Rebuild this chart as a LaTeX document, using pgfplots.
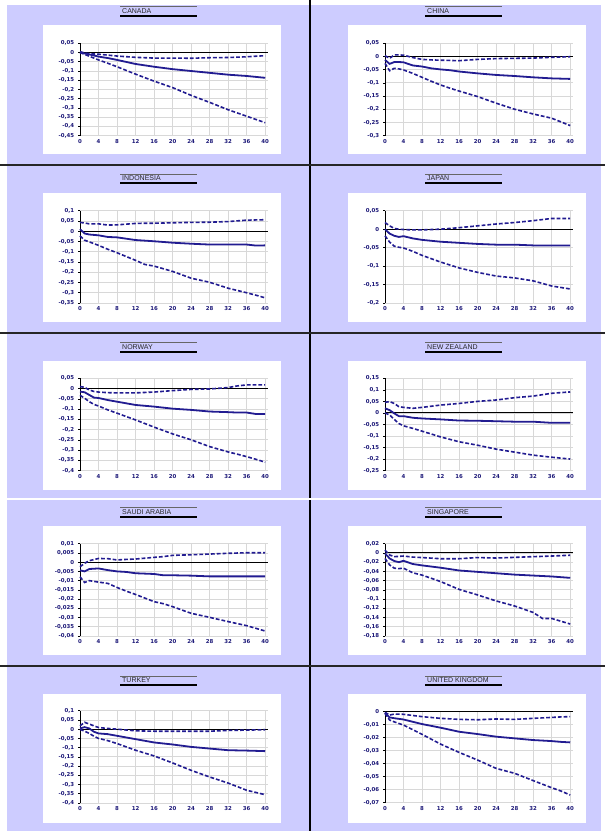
\documentclass[border=0pt]{standalone}
\usepackage{fontspec}
\setmainfont{Liberation Sans}
\newfontfamily\tickfont{DejaVu Sans}
\usepackage{pgfplots}
\pgfplotsset{compat=1.18}
\usepackage{pgfplotstable}

\definecolor{panelbg}{RGB}{205,204,255}
\definecolor{irfblue}{RGB}{34,28,145}
\definecolor{ticknavy}{RGB}{28,24,120}
\definecolor{gridgrey}{RGB}{216,216,216}
\definecolor{titlegrey}{RGB}{40,40,40}

% impulse responses: horizon, point estimate, upper band, lower band
\pgfplotstableread{
x mid up lo
0 0 0.005 0
1 -0.005 -0.003 -0.01
2 -0.01 -0.006 -0.02
3 -0.016 -0.008 -0.03
4 -0.022 -0.009 -0.04
6 -0.03 -0.014 -0.058
8 -0.04 -0.019 -0.077
12 -0.062 -0.026 -0.117
16 -0.077 -0.03 -0.155
20 -0.09 -0.03 -0.19
24 -0.10 -0.031 -0.232
28 -0.11 -0.028 -0.27
32 -0.12 -0.027 -0.31
36 -0.127 -0.023 -0.345
40 -0.137 -0.017 -0.38
}\tabCanada

\pgfplotstableread{
x mid up lo
0 -0.013 0.003 -0.026
1 -0.028 -0.007 -0.054
2 -0.021 0.006 -0.045
3 -0.021 0.006 -0.047
4 -0.022 0.005 -0.051
6 -0.034 -0.004 -0.064
8 -0.038 -0.011 -0.079
10 -0.045 -0.013 -0.094
12 -0.049 -0.014 -0.108
14 -0.052 -0.015 -0.12
16 -0.057 -0.016 -0.131
20 -0.064 -0.011 -0.152
24 -0.07 -0.008 -0.177
28 -0.074 -0.007 -0.2
32 -0.079 -0.006 -0.218
36 -0.083 -0.003 -0.234
40 -0.085 -0.001 -0.262
}\tabChina

\pgfplotstableread{
x mid up lo
0 0.01 0.043 -0.023
1 -0.011 0.04 -0.044
2 -0.016 0.036 -0.052
4 -0.02 0.036 -0.069
6 -0.028 0.03 -0.088
8 -0.03 0.031 -0.105
12 -0.043 0.038 -0.142
14 -0.046 0.039 -0.162
16 -0.049 0.039 -0.17
20 -0.056 0.041 -0.196
24 -0.061 0.043 -0.229
28 -0.065 0.044 -0.249
32 -0.065 0.047 -0.278
36 -0.065 0.054 -0.3
38 -0.07 0.055 -0.312
40 -0.069 0.056 -0.325
}\tabIndonesia

\pgfplotstableread{
x mid up lo
0 0 0.018 -0.018
1 -0.012 0.009 -0.035
2 -0.018 0.002 -0.046
3 -0.021 0 -0.049
4 -0.019 -0.001 -0.051
6 -0.025 -0.002 -0.06
8 -0.029 -0.002 -0.071
12 -0.034 0 -0.089
16 -0.037 0.004 -0.105
20 -0.04 0.009 -0.117
24 -0.042 0.014 -0.127
28 -0.042 0.018 -0.132
32 -0.044 0.023 -0.14
36 -0.044 0.029 -0.154
40 -0.044 0.029 -0.162
}\tabJapan

\pgfplotstableread{
x mid up lo
0 -0.015 0.01 -0.033
1 -0.018 0.006 -0.047
2 -0.031 -0.007 -0.064
3 -0.044 -0.014 -0.077
4 -0.046 -0.017 -0.085
6 -0.056 -0.02 -0.104
8 -0.064 -0.021 -0.12
12 -0.08 -0.021 -0.153
16 -0.088 -0.017 -0.188
20 -0.098 -0.01 -0.221
24 -0.104 -0.004 -0.25
28 -0.112 -0.002 -0.283
32 -0.115 0.005 -0.309
34 -0.117 0.013 -0.32
36 -0.117 0.018 -0.332
38 -0.124 0.018 -0.345
40 -0.124 0.018 -0.359
}\tabNorway

\pgfplotstableread{
x mid up lo
0 0.02 0.046 0
1 0.012 0.049 -0.009
2 -0.002 0.041 -0.028
3 -0.014 0.027 -0.046
4 -0.014 0.024 -0.056
6 -0.021 0.02 -0.067
8 -0.024 0.024 -0.079
12 -0.028 0.034 -0.104
16 -0.033 0.041 -0.125
20 -0.034 0.05 -0.14
24 -0.036 0.056 -0.157
28 -0.038 0.066 -0.17
32 -0.038 0.073 -0.183
36 -0.043 0.085 -0.192
40 -0.043 0.091 -0.2
}\tabNewZealand

\pgfplotstableread{
x mid up lo
0 -0.0044 -0.0025 -0.0079
1 -0.005 -0.0006 -0.011
2 -0.0037 0.0008 -0.010
4 -0.0034 0.002 -0.0108
6 -0.0043 0.0019 -0.0115
8 -0.005 0.0012 -0.0137
10 -0.0053 0.0015 -0.0157
12 -0.006 0.0017 -0.0175
16 -0.0064 0.0026 -0.0214
18 -0.0071 0.003 -0.0225
20 -0.0071 0.0037 -0.0241
24 -0.0073 0.004 -0.0277
28 -0.0077 0.0044 -0.0299
32 -0.0077 0.0048 -0.0322
36 -0.0077 0.0051 -0.0344
40 -0.0077 0.0051 -0.0373
}\tabSaudi

\pgfplotstableread{
x mid up lo
0 -0.001 0.006 -0.012
1 -0.012 -0.0045 -0.026
2 -0.0175 -0.008 -0.033
3 -0.02 -0.0075 -0.034
4 -0.017 -0.0067 -0.033
6 -0.024 -0.009 -0.043
8 -0.027 -0.01 -0.048
12 -0.032 -0.0125 -0.062
16 -0.038 -0.0125 -0.079
20 -0.041 -0.01 -0.091
24 -0.044 -0.011 -0.104
28 -0.047 -0.0096 -0.115
32 -0.049 -0.008 -0.129
34 -0.05 -0.0075 -0.142
36 -0.051 -0.0067 -0.142
40 -0.054 -0.005 -0.154
}\tabSingapore

\pgfplotstableread{
x mid up lo
0 0.004 0.018 -0.001
1 0.011 0.037 -0.011
2 0.004 0.028 -0.023
3 -0.014 0.018 -0.038
4 -0.023 0.009 -0.05
6 -0.027 0.004 -0.062
8 -0.036 0 -0.078
12 -0.054 -0.009 -0.114
16 -0.072 -0.011 -0.145
20 -0.083 -0.011 -0.183
24 -0.096 -0.011 -0.223
28 -0.105 -0.011 -0.259
32 -0.114 -0.007 -0.292
36 -0.116 -0.005 -0.331
40 -0.119 -0.003 -0.355
}\tabTurkey

\pgfplotstableread{
x mid up lo
0 -0.0008 -0.0005 -0.0013
1 -0.0044 -0.0026 -0.0064
2 -0.005 -0.0018 -0.0078
4 -0.006 -0.002 -0.0103
8 -0.0095 -0.0038 -0.0174
12 -0.0123 -0.0051 -0.0249
16 -0.0154 -0.0059 -0.0313
20 -0.0172 -0.0062 -0.0372
24 -0.0192 -0.0056 -0.0436
28 -0.0205 -0.0059 -0.0474
32 -0.0218 -0.0051 -0.053
36 -0.0226 -0.0044 -0.0585
38 -0.0232 -0.004 -0.061
40 -0.0236 -0.0038 -0.0641
}\tabUK

\pgfplotsset{
  panel/.style={
    scale only axis, width=188pt, height=92.3pt, anchor=north west,
    xmin=0, xmax=40.6, xtick={0,4,...,40},
    axis x line*=bottom, axis y line*=left,
    x axis line style={-, draw=gridgrey, line width=0.7pt},
    y axis line style={-, draw=black, line width=0.9pt},
    xtick style={draw=none},
    ytick pos=left, ytick align=outside,
    ytick style={black, line width=0.6pt}, major tick length=2pt,
    grid=major, major grid style={gridgrey, line width=0.8pt},
    tick label style={font=\tickfont\bfseries\fontsize{5.4}{5.6}\selectfont, text=ticknavy},
    yticklabel style={xshift=-0.3pt},
    xticklabel style={yshift=-0.3pt},
    scaled y ticks=false,
    /pgf/number format/.cd, fixed, precision=3, use comma, assume math mode=true,
    /pgfplots/.cd,
    extra y ticks={0}, extra y tick labels={},
    extra y tick style={grid=major, major grid style={black, line width=0.9pt}, ytick style={draw=none}},
    clip=false,
  },
  mid/.style={irfblue, line width=1.8pt},
  band/.style={irfblue, line width=1.6pt, dash pattern=on 3.8pt off 2pt},
}

% one panel: title block and white chart area
\newcommand\panelframe[4]{% #1 x offset, #2 title line y, #3 chart top y, #4 title
  \fill[white] ({43.3pt+#1pt},{-#3pt}) rectangle ({280.7pt+#1pt},{-#3pt-129.3pt});
  \draw[line width=0.9pt, gray!80!black] ({120pt+#1pt},{-#2pt}) -- ({197pt+#1pt},{-#2pt});
  \draw[line width=1.9pt, black] ({120pt+#1pt},{-#2pt-9pt}) -- ({197pt+#1pt},{-#2pt-9pt});
  \node[anchor=base west, inner sep=0pt, text=titlegrey,
        font=\fontsize{7}{7.2}\selectfont] at ({122pt+#1pt},{-#2pt-6.6pt}) {#4};
}

\newcommand\irf[1]{%
  \addplot[band] table[x=x, y=up] {#1};
  \addplot[band] table[x=x, y=lo] {#1};
  \addplot[mid] table[x=x, y=mid] {#1};
}

\begin{document}
\begin{tikzpicture}
% page and panel backgrounds
\fill[white] (0,0) rectangle (605pt,-831pt);
\fill[panelbg] (7pt,-5pt) rectangle (601pt,-498pt);
\fill[panelbg] (7pt,-500pt) rectangle (601pt,-831pt);
\fill[black] (309.3pt,0pt) rectangle (311.2pt,-498pt);
\fill[black] (309.3pt,-500pt) rectangle (311.2pt,-831pt);
\fill[black!85] (0pt,-164.3pt) rectangle (605pt,-166.2pt);
\fill[black!85] (0pt,-332.3pt) rectangle (605pt,-334.2pt);
\fill[black!85] (0pt,-664.8pt) rectangle (605pt,-666.8pt);

\panelframe{0}{6.7}{25}{CANADA}
\panelframe{305}{6.7}{25}{CHINA}
\panelframe{0}{174.3}{192.7}{INDONESIA}
\panelframe{305}{174.3}{192.7}{JAPAN}
\panelframe{0}{342.7}{361}{NORWAY}
\panelframe{305}{342.7}{361}{NEW ZEALAND}
\panelframe{0}{507.7}{526}{SAUDI ARABIA}
\panelframe{305}{507.7}{526}{SINGAPORE}
\panelframe{0}{676}{694}{TURKEY}
\panelframe{305}{676}{694}{UNITED KINGDOM}

\begin{axis}[panel, at={(80pt,-43.3pt)}, ymin=-0.45, ymax=0.05,
  ytick={-0.45,-0.4,-0.35,-0.3,-0.25,-0.2,-0.15,-0.1,-0.05,0,0.05}]
\irf{\tabCanada}
\end{axis}
\begin{axis}[panel, at={(385pt,-43.3pt)}, ymin=-0.3, ymax=0.05,
  ytick={-0.3,-0.25,-0.2,-0.15,-0.1,-0.05,0,0.05}]
\irf{\tabChina}
\end{axis}

\begin{axis}[panel, at={(80pt,-210.7pt)}, ymin=-0.35, ymax=0.1,
  ytick={-0.35,-0.3,-0.25,-0.2,-0.15,-0.1,-0.05,0,0.05,0.1}]
\irf{\tabIndonesia}
\end{axis}
\begin{axis}[panel, at={(385pt,-210.7pt)}, ymin=-0.2, ymax=0.05,
  ytick={-0.2,-0.15,-0.1,-0.05,0,0.05}]
\irf{\tabJapan}
\end{axis}

\begin{axis}[panel, at={(80pt,-378.3pt)}, ymin=-0.4, ymax=0.05,
  ytick={-0.4,-0.35,-0.3,-0.25,-0.2,-0.15,-0.1,-0.05,0,0.05}]
\irf{\tabNorway}
\end{axis}
\begin{axis}[panel, at={(385pt,-378.3pt)}, ymin=-0.25, ymax=0.15,
  ytick={-0.25,-0.2,-0.15,-0.1,-0.05,0,0.05,0.1,0.15}]
\irf{\tabNewZealand}
\end{axis}

\begin{axis}[panel, at={(80pt,-543.7pt)}, ymin=-0.04, ymax=0.01,
  ytick={-0.04,-0.035,-0.03,-0.025,-0.02,-0.015,-0.01,-0.005,0,0.005,0.01}]
\irf{\tabSaudi}
\end{axis}
\begin{axis}[panel, at={(385pt,-543.7pt)}, ymin=-0.18, ymax=0.02,
  ytick={-0.18,-0.16,-0.14,-0.12,-0.1,-0.08,-0.06,-0.04,-0.02,0,0.02}]
\irf{\tabSingapore}
\end{axis}

\begin{axis}[panel, at={(80pt,-710.7pt)}, ymin=-0.4, ymax=0.1,
  ytick={-0.4,-0.35,-0.3,-0.25,-0.2,-0.15,-0.1,-0.05,0,0.05,0.1}]
\irf{\tabTurkey}
\end{axis}
\begin{axis}[panel, at={(385pt,-711.7pt)}, ymin=-0.07, ymax=0, height=91pt,
  ytick={-0.07,-0.06,-0.05,-0.04,-0.03,-0.02,-0.01,0}]
\irf{\tabUK}
\end{axis}

\pgfresetboundingbox
\path[use as bounding box] (0,0) rectangle (605pt,-831pt);
\end{tikzpicture}
\end{document}
